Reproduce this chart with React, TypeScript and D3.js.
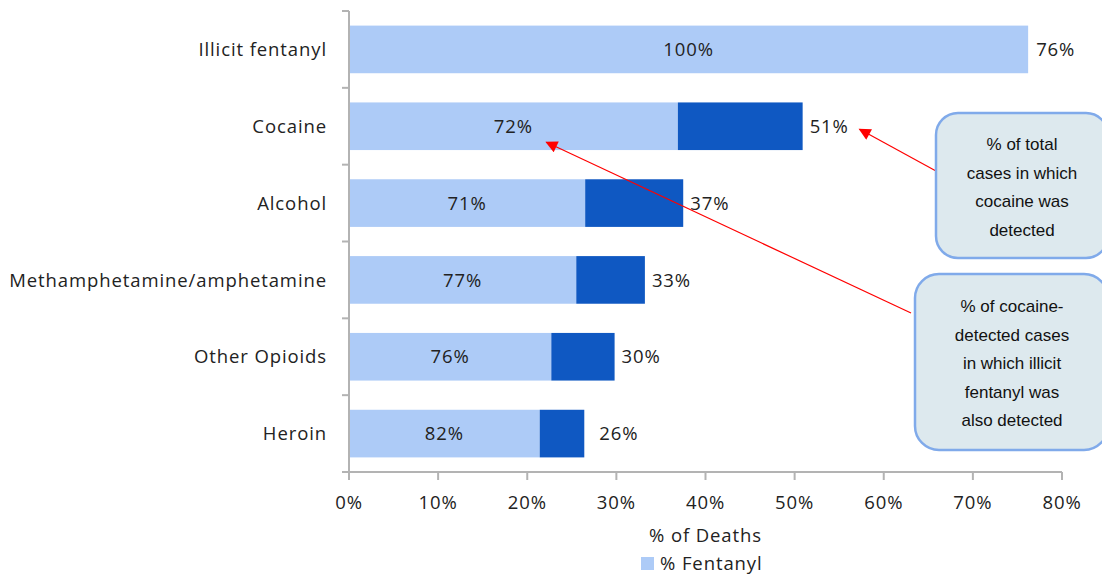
import React from "react";
import * as d3 from "d3";

const categories = ["Illicit fentanyl", "Cocaine", "Alcohol", "Methamphetamine/amphetamine", "Other Opioids", "Heroin"];
const fentanylValues = [76.2, 36.9, 26.5, 25.5, 22.7, 21.4];
const totalValues = [76.2, 50.9, 37.5, 33.2, 29.8, 26.4];
const innerLabels = ["100%", "72%", "71%", "77%", "76%", "82%"];
const totalLabels = ["76%", "51%", "37%", "33%", "30%", "26%"];
const xTicks = [0, 10, 20, 30, 40, 50, 60, 70, 80];

const W = 1102, H = 575;
const M = { left: 349, right: 1062, top: 11, bottom: 472 };
const LIGHT = "#adcbf7";
const DARK = "#0f58c2";
const AXIS = "#b3b3b3";
const FONT = "'Open Sans', Lato, sans-serif";
const FS = 18.5;
const LS = 0.9;
const AFONT = "'Liberation Sans', Arial, sans-serif";

export default function App() {
  const x = d3.scaleLinear().domain([0, 80]).range([M.left, M.right]);
  const y = d3.scaleBand<string>().domain(categories).range([M.top, M.bottom]).paddingInner(0.38).paddingOuter(0.19);
  const step = y.step();

  const box1 = { x: 936, y: 113, w: 172, h: 145 };
  const box2 = { x: 915, y: 274, w: 193, h: 176 };
  const box1Lines = ["% of total", "cases in which", "cocaine was", "detected"];
  const box2Lines = ["% of cocaine-", "detected cases", "in which illicit", "fentanyl was", "also detected"];

  const arrow1 = { x1: 936, y1: 171, x2: x(totalValues[1]) + 57, y2: (y(categories[1]) as number) + y.bandwidth() / 2 + 3 };
  const arrow2 = { x1: 911, y1: 313, x2: x(fentanylValues[1] / 2) + 33, y2: (y(categories[1]) as number) + y.bandwidth() / 2 + 16 };

  const tp = { fontFamily: FONT, fontSize: FS, fill: "#222", letterSpacing: LS } as const;

  return (
    <svg width={W} height={H} style={{ position: "absolute", left: 0, top: 0, background: "#fff" }}>
      <defs>
        <marker id="ah" viewBox="0 0 10 10" refX="9" refY="5" markerWidth="14" markerHeight="12" markerUnits="userSpaceOnUse" orient="auto">
          <path d="M0,0 L10,5 L0,10 z" fill="#ff0000" />
        </marker>
      </defs>
      {categories.map((c, i) => {
        const by = y(c) as number;
        const bh = y.bandwidth();
        return (
          <g key={c}>
            <rect x={x(0)} y={by} width={x(fentanylValues[i]) - x(0)} height={bh} fill={LIGHT} />
            {totalValues[i] > fentanylValues[i] && (
              <rect x={x(fentanylValues[i])} y={by} width={x(totalValues[i]) - x(fentanylValues[i])} height={bh} fill={DARK} />
            )}
            <text x={x(fentanylValues[i] / 2)} y={by + bh / 2} dy="0.36em" textAnchor="middle" {...tp}>{innerLabels[i]}</text>
            <text x={x(totalValues[i]) + (i === 0 ? 8 : i === 5 ? 15 : 7)} y={by + bh / 2} dy="0.36em" {...tp}>{totalLabels[i]}</text>
            <text x={M.left - 22} y={by + bh / 2} dy="0.36em" textAnchor="end" {...tp}>{c}</text>
          </g>
        );
      })}
      {/* y axis */}
      <line x1={M.left} x2={M.left} y1={M.top} y2={M.bottom} stroke={AXIS} strokeWidth={2} />
      {d3.range(categories.length + 1).map((k) => (
        <line key={k} x1={M.left - 7} x2={M.left} y1={M.top + k * step} y2={M.top + k * step} stroke={AXIS} strokeWidth={2} />
      ))}
      {/* x axis */}
      <line x1={M.left - 7} x2={M.right} y1={M.bottom} y2={M.bottom} stroke={AXIS} strokeWidth={2} />
      {xTicks.map((t) => (
        <g key={t}>
          <line x1={x(t)} x2={x(t)} y1={M.bottom} y2={M.bottom + 8} stroke={AXIS} strokeWidth={2} />
          <text x={x(t)} y={502} dy="0.36em" textAnchor="middle" {...tp}>{t}%</text>
        </g>
      ))}
      <text x={(M.left + M.right) / 2} y={535} dy="0.36em" textAnchor="middle" {...tp}>% of Deaths</text>
      <rect x={641} y={557} width={13} height={13} fill={LIGHT} />
      <text x={660} y={563} dy="0.36em" {...tp}>% Fentanyl</text>
      {/* annotations */}
      <line x1={arrow1.x1} y1={arrow1.y1} x2={arrow1.x2} y2={arrow1.y2} stroke="#ff0000" strokeWidth={1.2} markerEnd="url(#ah)" />
      <line x1={arrow2.x1} y1={arrow2.y1} x2={arrow2.x2} y2={arrow2.y2} stroke="#ff0000" strokeWidth={1.2} markerEnd="url(#ah)" />
      <rect x={box1.x} y={box1.y} width={box1.w} height={box1.h} rx={22} fill="#dde9ee" stroke="#80aaea" strokeWidth={2.5} />
      {box1Lines.map((l, i) => (
        <text key={l} x={1022} y={144 + i * 28.5} dy="0.36em" textAnchor="middle" fontFamily={AFONT} fontSize={17} fill="#111">{l}</text>
      ))}
      <rect x={box2.x} y={box2.y} width={box2.w} height={box2.h} rx={24} fill="#dde9ee" stroke="#80aaea" strokeWidth={2.5} />
      {box2Lines.map((l, i) => (
        <text key={l} x={1012} y={306 + i * 28.5} dy="0.36em" textAnchor="middle" fontFamily={AFONT} fontSize={17} fill="#111">{l}</text>
      ))}
    </svg>
  );
}
